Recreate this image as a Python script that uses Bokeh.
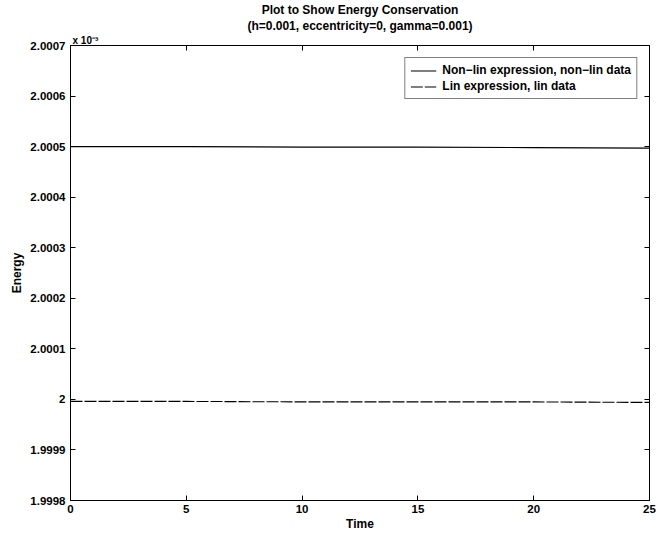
from bokeh.plotting import figure
from bokeh.models import (Range1d, FixedTicker, LinearAxis, Legend, LegendItem, Title,
                          CustomJSTickFormatter)
from bokeh.embed import file_html
from bokeh.resources import INLINE

# ---- data (energy in units of 1e-3) ----
time = [0, 5, 10, 15, 20, 25]
energy_nonlin = [2.000500, 2.000500, 2.000499, 2.000499, 2.000498, 2.000497]
energy_lin = [1.999996, 1.999996, 1.999995, 1.999995, 1.999995, 1.999994]
x_ticks = [0, 5, 10, 15, 20, 25]
y_ticks = [1.9998, 1.9999, 2.0, 2.0001, 2.0002, 2.0003, 2.0004, 2.0005, 2.0006, 2.0007]
title1 = "Plot to Show Energy Conservation"
title2 = "(h=0.001, eccentricity=0, gamma=0.001)"
multiplier = "x 10\u207b\u00b3"
series_names = ["Non\u2212lin expression, non\u2212lin data", "Lin expression, lin data"]

FONT = "Liberation Sans"
FS = "12px"

p = figure(width=657, height=535, output_backend="svg", toolbar_location=None,
           x_range=Range1d(0, 25), y_range=Range1d(1.9998, 2.0007),
           min_border_left=70, min_border_right=8, min_border_top=42, min_border_bottom=35)
p.title.visible = False
p.grid.visible = False
p.outline_line_color = "black"
p.outline_line_width = 1
p.background_fill_color = "white"
p.border_fill_color = "white"

fmt = CustomJSTickFormatter(code="return tick.toFixed(4).replace(/\\.?0+$/, '');")
blank = CustomJSTickFormatter(code="return '';")

def style_axis(ax, labels=True):
    ax.axis_line_color = "black"
    ax.major_tick_in = 5
    ax.major_tick_out = 0
    ax.minor_tick_line_color = None
    ax.major_tick_line_color = "black"
    ax.major_label_text_font = FONT
    ax.major_label_text_font_size = "11.5px"
    ax.major_label_text_font_style = "bold"
    ax.major_label_text_color = "black"
    ax.axis_label_text_font = FONT
    ax.axis_label_text_font_size = FS
    ax.axis_label_text_font_style = "bold"
    ax.axis_label_text_color = "black"
    if not labels:
        ax.formatter = blank
        ax.major_label_standoff = 0

xa = p.xaxis[0]
xa.ticker = FixedTicker(ticks=x_ticks)
xa.axis_label = "Time"
xa.axis_label_standoff = 1
xa.major_label_standoff = 4
style_axis(xa)

ya = p.yaxis[0]
ya.ticker = FixedTicker(ticks=y_ticks)
ya.formatter = fmt
ya.axis_label = "Energy"
ya.axis_label_standoff = 3
ya.major_label_standoff = 5
style_axis(ya)

top_ax = LinearAxis(ticker=FixedTicker(ticks=x_ticks))
style_axis(top_ax, labels=False)
right_ax = LinearAxis(ticker=FixedTicker(ticks=y_ticks))
style_axis(right_ax, labels=False)
p.add_layout(right_ax, "right")

r1 = p.line(time, energy_nonlin, line_color="black", line_width=1.1)
r2 = p.line(time, energy_lin, line_color="black", line_width=1.1, line_dash="12 2")

legend = Legend(items=[LegendItem(label=series_names[0], renderers=[r1]),
                       LegendItem(label=series_names[1], renderers=[r2])],
                location="top_right")
legend.border_line_color = "black"
legend.border_line_width = 1
legend.label_text_font = FONT
legend.label_text_font_size = FS
legend.label_text_font_style = "bold"
legend.label_text_color = "black"
legend.glyph_width = 26
legend.glyph_height = 13
legend.label_height = 13
legend.spacing = 2
legend.padding = 5
legend.margin = 12
legend.label_standoff = 6
legend.background_fill_alpha = 1
p.add_layout(legend)

# titles stacked above: first added is nearest to the frame
p.add_layout(top_ax, "above")
p.add_layout(Title(text=multiplier, align="left", text_font=FONT, text_font_size="10px",
                   text_font_style="bold", text_color="black", standoff=0, offset=2), "above")
p.add_layout(Title(text=title2, align="center", text_font=FONT, text_font_size=FS,
                   text_font_style="bold", text_color="black", standoff=0), "above")
p.add_layout(Title(text=title1, align="center", text_font=FONT, text_font_size=FS,
                   text_font_style="bold", text_color="black", standoff=0), "above")

open("out.html", "w").write(file_html(p, INLINE))
